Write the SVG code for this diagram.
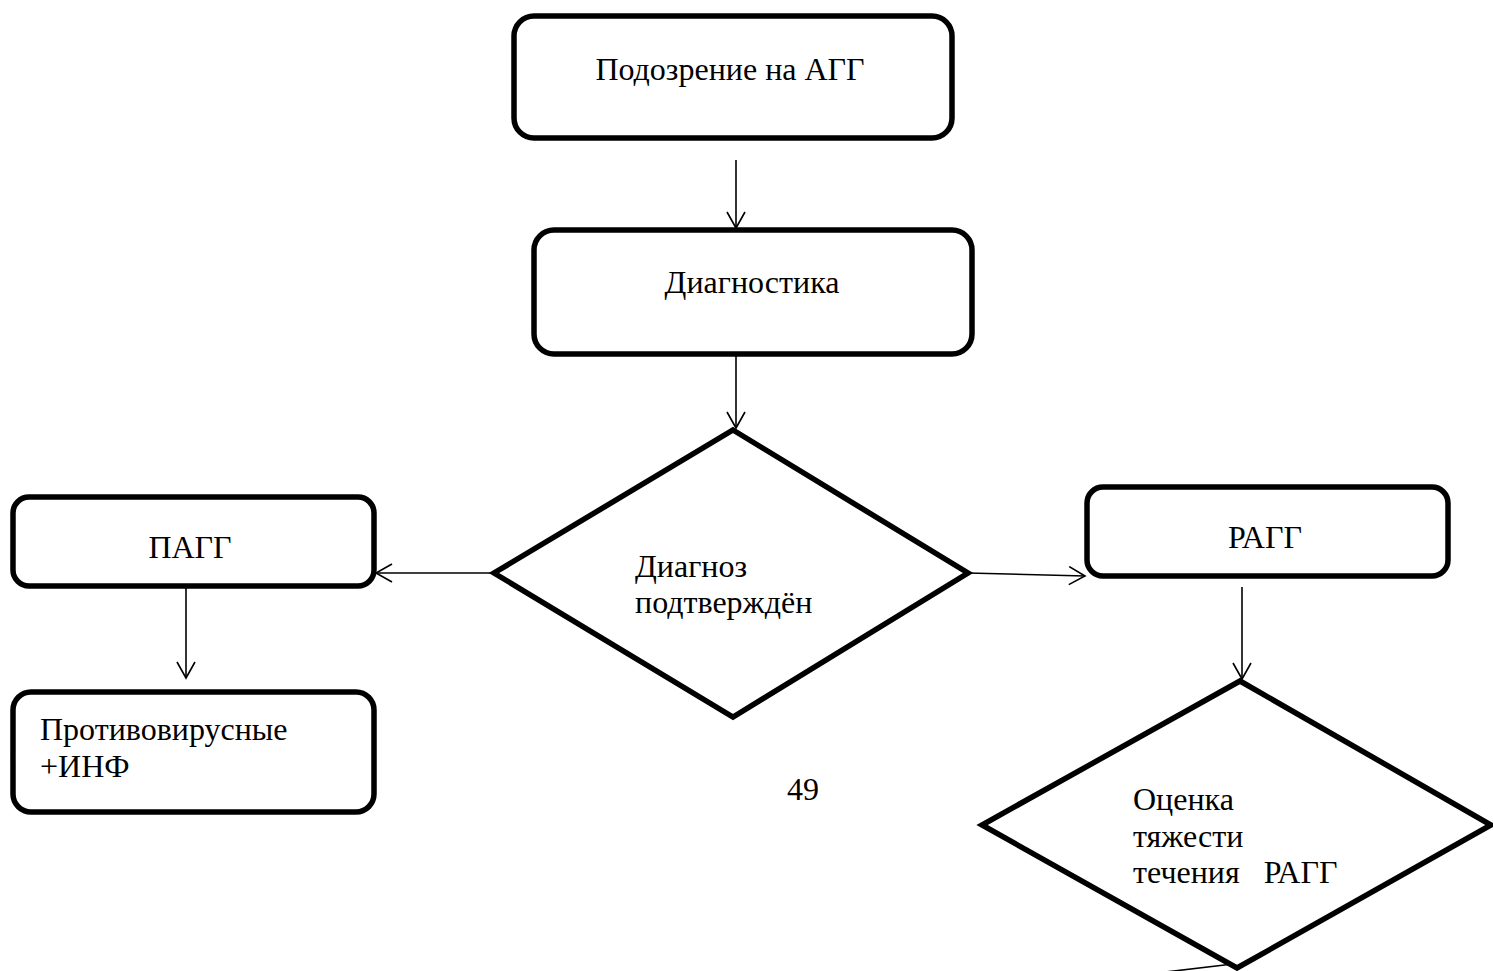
<svg xmlns="http://www.w3.org/2000/svg" width="1493" height="971" viewBox="0 0 1493 971">
<style>
.box{fill:#fff;stroke:#000;stroke-width:5.5}
.dia{fill:#fff;stroke:#000;stroke-width:5.5;stroke-linejoin:miter}
.t{font-family:"Liberation Serif","Times New Roman",serif;font-size:32px;fill:#000}
.c{fill:none;stroke:#000;stroke-width:1.6}
</style>
<defs>
<marker id="ah" markerWidth="22" markerHeight="22" refX="17" refY="10" orient="auto" markerUnits="userSpaceOnUse">
<path d="M1,1 L17,10 L1,19" fill="none" stroke="#000" stroke-width="1.6"/>
</marker>
</defs>
<rect width="1493" height="971" fill="#fff"/>
<g id="n1"><rect class="box" x="514" y="16" width="438" height="122" rx="20"/><text class="t" x="730" y="80" text-anchor="middle">Подозрение на АГГ</text></g>
<g id="n2"><rect class="box" x="534" y="230" width="438" height="124" rx="20"/><text class="t" x="752" y="293" text-anchor="middle">Диагностика</text></g>
<g id="n3"><polygon class="dia" points="733,430 968,573 733,717 494,573"/><text class="t" x="635" y="577">Диагноз</text><text class="t" x="635" y="613">подтверждён</text></g>
<g id="n4"><rect class="box" x="13" y="497" width="361" height="89" rx="16"/><text class="t" x="190" y="558" text-anchor="middle">ПАГГ</text></g>
<g id="n5"><rect class="box" x="13" y="692" width="361" height="120" rx="18"/><text class="t" x="40" y="740">Противовирусные</text><text class="t" x="40" y="777">+ИНФ</text></g>
<g id="n6"><rect class="box" x="1087" y="487" width="361" height="89" rx="16"/><text class="t" x="1265" y="548" text-anchor="middle">РАГГ</text></g>
<g id="n7"><polygon class="dia" points="1240,681 1491,825 1237,968 982,825"/><text class="t" x="1133" y="810">Оценка</text><text class="t" x="1133" y="847">тяжести</text><text class="t" x="1133" y="883" xml:space="preserve">течения   РАГГ</text></g>
<g id="page"><text class="t" x="787" y="800">49</text></g>
<g id="connectors">
<line class="c" x1="736" y1="160" x2="736" y2="228" marker-end="url(#ah)"/>
<line class="c" x1="736" y1="356" x2="736" y2="428" marker-end="url(#ah)"/>
<line class="c" x1="494" y1="573" x2="376" y2="573" marker-end="url(#ah)"/>
<line class="c" x1="968" y1="573" x2="1085" y2="576" marker-end="url(#ah)"/>
<line class="c" x1="186" y1="587" x2="186" y2="678" marker-end="url(#ah)"/>
<line class="c" x1="1242" y1="587" x2="1242" y2="679" marker-end="url(#ah)"/>
<line class="c" x1="1233" y1="964" x2="1140" y2="975"/>
</g>
</svg>
